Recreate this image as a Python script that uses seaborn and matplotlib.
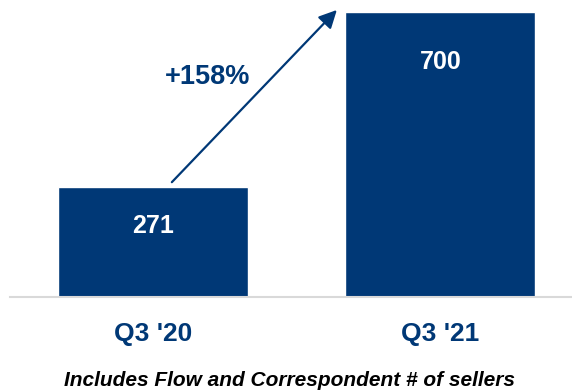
import matplotlib
matplotlib.use("Agg")
import matplotlib.pyplot as plt
import seaborn as sns
import pandas as pd

# Number of sellers by quarter
quarters = ["Q3 '20", "Q3 '21"]
sellers = [271, 700]
growth_label = "+158%"
caption = "Includes Flow and Correspondent # of sellers"

NAVY = "#003876"

sns.set_theme(style="white")
plt.rcParams["font.family"] = ["Liberation Sans", "DejaVu Sans"]

df = pd.DataFrame({"quarter": quarters, "sellers": sellers})

fig = plt.figure(figsize=(5.72, 3.91), dpi=100)
ax = fig.add_axes([10 / 572, 94 / 391, 562 / 572, 297 / 391])

sns.barplot(data=df, x="quarter", y="sellers", color=NAVY, saturation=1,
            width=0.661, ax=ax)

ax.set_xlim(-0.497, 1.458)
ax.set_ylim(0, 729.5)

# value labels inside the bars (offset below the bar top, in points)
label_drop = [28, 36]
for i, v in enumerate(sellers):
    ax.annotate(str(v), xy=(i, v), xytext=(0, -label_drop[i]),
                textcoords="offset points", ha="center", va="center",
                color="white", fontsize=18, fontweight="bold")

# growth arrow from first bar towards second
ax.annotate("", xy=(0.64, 705), xytext=(0.066, 282),
            arrowprops=dict(arrowstyle="-|>,head_length=0.9,head_width=0.45",
                            color=NAVY, lw=1.6, shrinkA=0, shrinkB=0),
            annotation_clip=False)
ax.text(0.191, 540, growth_label, ha="center", va="center", color=NAVY,
        fontsize=19.5, fontweight="bold")

for s in ["top", "right", "left"]:
    ax.spines[s].set_visible(False)
ax.spines["bottom"].set_color("#d9d9d9")
ax.spines["bottom"].set_linewidth(1.5)
ax.set_yticks([])
ax.set_xlabel("")
ax.set_ylabel("")
ax.tick_params(axis="x", length=0, pad=18)
for t in ax.get_xticklabels():
    t.set_color(NAVY)
    t.set_fontsize(19)
    t.set_fontweight("bold")

fig.text(290 / 572, 1 - 381 / 391, caption, ha="center", va="center",
         fontsize=15, fontweight="bold", fontstyle="italic", color="black")

fig.savefig("out.png", dpi=100)
